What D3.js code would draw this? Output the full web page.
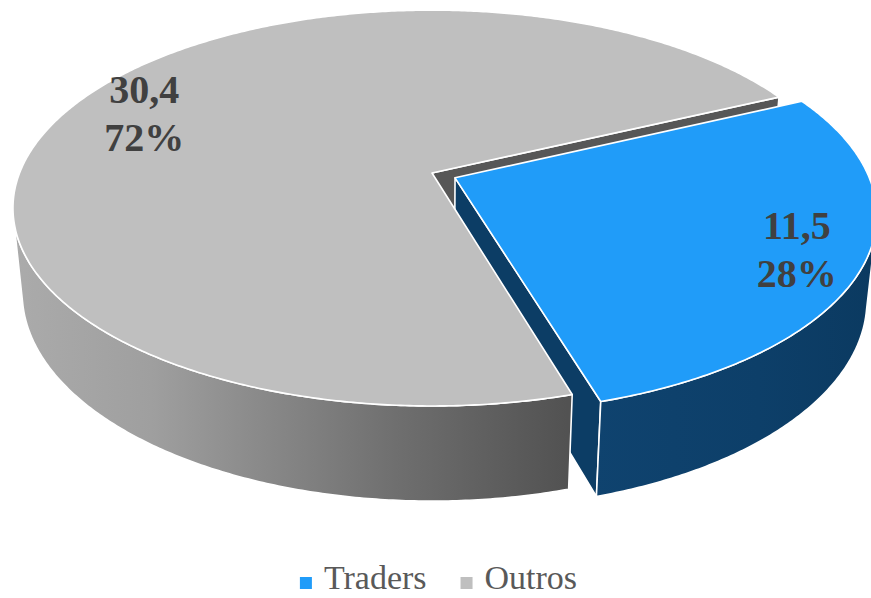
<!DOCTYPE html>
<html>
<head>
<meta charset="utf-8">
<script src="https://cdn.jsdelivr.net/npm/d3@7"></script>
<style>
  html, body { margin: 0; padding: 0; background: #fff; }
  svg { display: block; }
</style>
</head>
<body>
<svg id="chart" width="871" height="598"></svg>
<script>
// ---- data ----
const categories = ["Traders", "Outros"];
const values = [11.5, 30.4];
const valueLabels = ["11,5", "30,4"];
const percentLabels = ["28%", "72%"];

// ---- style ----
const topColors = ["#209CF9", "#BFBFBF"];
const sideFills = ["url(#gBlue)", "url(#gGray)"];
const faceColors = ["#0C3D65", "#575757"];
const explode = [0.061, 0];
const labelRadius = [0.845, 0.81];

const W = 871, H = 598;
const svg = d3.select("#chart");

// projection (perspective view of a tilted disc)
const cx = 432, cy = 173, f = 2062, L = 5.0;
const alpha = 27.7 * Math.PI / 180;
const sa = Math.sin(alpha), ca = Math.cos(alpha);
const depth = 0.234;
function proj(x, y, z) {
  const zc = L - (z * ca + y * sa);
  return [cx + f * x / zc, cy + f * (z * sa - y * ca) / zc];
}

const defs = svg.append("defs");
const gg = defs.append("linearGradient").attr("id", "gGray")
  .attr("gradientUnits", "userSpaceOnUse").attr("x1", 13).attr("x2", 567).attr("y1", 0).attr("y2", 0);
[[0, "#ababab"], [0.25, "#9f9f9f"], [0.7, "#6e6e6e"], [1, "#525252"]]
  .forEach(([o, col]) => gg.append("stop").attr("offset", o).attr("stop-color", col));
const gb = defs.append("linearGradient").attr("id", "gBlue")
  .attr("gradientUnits", "userSpaceOnUse").attr("x1", 590).attr("x2", 871).attr("y1", 0).attr("y2", 0);
[[0, "#0F436F"], [0.6, "#0D3F69"], [1, "#0B3A61"]]
  .forEach(([o, col]) => gb.append("stop").attr("offset", o).attr("stop-color", col));

const start = 64.8 * Math.PI / 180;
const pie = d3.pie().sort(null).startAngle(start).endAngle(start + 2 * Math.PI);
const arcs = pie(values).map((a, i) => {
  const t0 = a.startAngle - Math.PI / 2, t1 = a.endAngle - Math.PI / 2;
  const mid = (t0 + t1) / 2;
  return { i, t0, t1, mid, ox: explode[i] * Math.cos(mid), oz: explode[i] * Math.sin(mid) };
});

function pt(a, r, t, y) { return proj(a.ox + r * Math.cos(t), y, a.oz + r * Math.sin(t)); }
function arcPts(a, ta, tb, y) {
  const n = Math.max(2, Math.ceil(Math.abs(tb - ta) / (Math.PI / 360)));
  return d3.range(n + 1).map(k => pt(a, 1, ta + (tb - ta) * k / n, y));
}
const line = d3.line();

const vis0 = Math.asin(1 / (L * ca)), vis1 = Math.PI - vis0;

const faces = [];
// radial faces
arcs.forEach(a => {
  [[a.t0, a.t0 - Math.PI / 2], [a.t1, a.t1 + Math.PI / 2]].forEach(([t, phi]) => {
    const vis = (-a.ox) * Math.cos(phi) + (L * ca - a.oz) * Math.sin(phi);
    if (vis > 0) {
      const p = [pt(a, 0, t, 0), pt(a, 1, t, 0), pt(a, 1, t, -depth), pt(a, 0, t, -depth)];
      faces.push({ kind: 0, z: a.oz + 0.5 * Math.sin(t), d: line(p) + "Z", fill: faceColors[a.i] });
    }
  });
});
// outer sides
arcs.forEach(a => {
  for (let k = -1; k <= 1; k++) {
    const lo = Math.max(a.t0, vis0 + 2 * Math.PI * k), hi = Math.min(a.t1, vis1 + 2 * Math.PI * k);
    if (hi > lo) {
      const p = arcPts(a, lo, hi, 0).concat(arcPts(a, hi, lo, -depth));
      faces.push({ kind: 1, z: 0, d: line(p) + "Z", fill: sideFills[a.i] });
    }
  }
});
// tops
arcs.forEach(a => {
  const p = [pt(a, 0, a.t0, 0)].concat(arcPts(a, a.t0, a.t1, 0));
  faces.push({ kind: 2, z: 0, d: line(p) + "Z", fill: topColors[a.i] });
});

faces.sort((p, q) => p.kind - q.kind || p.z - q.z);
svg.append("g").selectAll("path").data(faces).join("path")
  .attr("d", d => d.d).attr("fill", d => d.fill)
  .attr("stroke", "#fff").attr("stroke-width", 1.6).attr("stroke-linejoin", "round");

// data labels
const lab = svg.append("g").attr("font-family", "'Liberation Serif', 'DejaVu Serif', serif")
  .attr("font-weight", "bold").attr("font-size", 40).attr("fill", "#404040").attr("text-anchor", "middle");
arcs.forEach(a => {
  const [x, y] = pt(a, labelRadius[a.i], a.mid, 0);
  lab.append("text").attr("x", x).attr("y", y - 10).text(valueLabels[a.i]);
  lab.append("text").attr("x", x).attr("y", y + 38).text(percentLabels[a.i]);
});

// legend
const lg = svg.append("g").attr("font-family", "'Liberation Serif', 'DejaVu Serif', serif")
  .attr("font-size", 34).attr("fill", "#595959");
const items = lg.selectAll("g").data(categories).join("g");
items.append("rect").attr("width", 12).attr("height", 12).attr("y", 577).attr("fill", (d, i) => topColors[i]);
items.append("text").attr("y", 589).text(d => d);
let widths = [];
items.select("text").each(function () { widths.push(this.getComputedTextLength()); });
const sq = 12, gap1 = 12, gap2 = 34;
const total = d3.sum(widths) + categories.length * (sq + gap1) + (categories.length - 1) * gap2;
let xpos = 438.5 - total / 2;
items.each(function (d, i) {
  const g = d3.select(this);
  g.select("rect").attr("x", xpos);
  g.select("text").attr("x", xpos + sq + gap1);
  xpos += sq + gap1 + widths[i] + gap2;
});
</script>
</body>
</html>
